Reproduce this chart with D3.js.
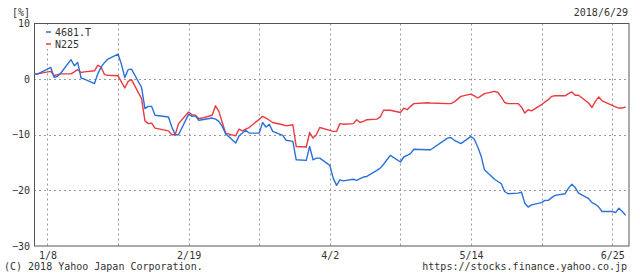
<!DOCTYPE html>
<html>
<head>
<meta charset="utf-8">
<script src="https://cdn.jsdelivr.net/npm/d3@7"></script>
<style>
  body { margin: 0; background: #fff; }
  svg text { font-family: "DejaVu Sans Mono", "Liberation Mono", monospace; fill: #333; }
</style>
</head>
<body>
<svg id="chart" width="640" height="279"></svg>
<script>
// trading days, Jan 4 - Jun 29 2018
let days = [
  "01-04","01-05","01-09","01-10","01-11","01-12","01-15","01-16","01-17","01-18","01-19",
  "01-22","01-23","01-24","01-25","01-26","01-29","01-30","01-31","02-01","02-02",
  "02-05","02-06","02-07","02-08","02-09","02-13","02-14","02-15","02-16",
  "02-19","02-20","02-21","02-22","02-23","02-26","02-27","02-28","03-01","03-02",
  "03-05","03-06","03-07","03-08","03-09","03-12","03-13","03-14","03-15","03-16",
  "03-19","03-20","03-22","03-23","03-26","03-27","03-28","03-29","03-30",
  "04-02","04-03","04-04","04-05","04-06","04-09","04-10","04-11","04-12","04-13",
  "04-16","04-17","04-18","04-19","04-20","04-23","04-24","04-25","04-26","04-27",
  "05-01","05-02","05-07","05-08","05-09","05-10","05-11","05-14","05-15","05-16","05-17","05-18",
  "05-21","05-22","05-23","05-24","05-25","05-28","05-29","05-30","05-31","06-01",
  "06-04","06-05","06-06","06-07","06-08","06-11","06-12","06-13","06-14","06-15",
  "06-18","06-19","06-20","06-21","06-22","06-25","06-26","06-27","06-28","06-29"
]

let stock = [  // 4681.T, %
  0.9, 0.9, 2.1, 0.3, 0.5, 1.1, 3.5, 2.4, 3.0, 0.2, 0,
  -0.8, 1.0, 2.2, 3.0, 3.6, 4.5, 2.7, 0.3, 1.7, 1.8,
  -1.5, -5.3, -4.9, -4.9, -6.5, -6.8, -8.6, -10, -10,
  -6.3, -6.7, -6.6, -7.4, -7.3, -7.0, -7.2, -7.6, -8.5, -9.8,
  -11.5, -10.2, -9.7, -9.2, -9.7, -9.7, -7.8, -8.6, -8.1, -9.4,
  -10.1, -11.0, -11.2, -14.5, -14.6, -12.1, -14.5, -14.2, -14.2,
  -15.5, -17.8, -19.1, -18.1, -18.3, -18.0, -18.2, -17.9, -17.6, -17.5,
  -16.4, -16.0, -15.3, -14.5, -13.7, -14.9, -14.0, -13.7, -13.4, -12.6,
  -12.7, -12.7, -10.6, -10.5, -11.0, -11.3, -11.6, -10.3, -10.8, -12.2, -13.8, -16.3,
  -18.0, -18.4, -18.8, -20.2, -20.6, -20.5, -20.3, -22.3, -23.0, -22.6,
  -22.2, -21.8, -21.8, -21.3, -20.9, -20.6, -19.6, -18.9, -19.5, -20.5,
  -21.5, -22.2, -22.5, -23.0, -23.8, -23.8, -24.0, -23.2, -23.8, -24.5
]

let nikkei = [  // N225, %
  0.95, 0.95, 1.4, 0.6, 0.8, 0.95, 0.95, 1.3, 1.7, 1.2, 1.3,
  1.5, 2.5, 2.1, 0.8, 0.7, 0.6, -0.5, -1.6, -0.4, -0.1,
  -3.5, -7.5, -8.0, -7.9, -8.8, -9.3, -10, -10, -8.0,
  -5.9, -6.4, -6.5, -7.1, -7.0, -6.5, -4.8, -5.8, -7.8, -9.7,
  -10.2, -9.0, -9.3, -9.0, -8.7, -7.2, -6.7, -7.0, -7.4, -7.8,
  -8.2, -8.4, -8.2, -12.1, -12.2, -9.6, -10.6, -10.0, -8.7,
  -9.2, -9.4, -9.4, -8.0, -8.1, -8.0, -7.3, -7.8, -7.6, -7.3,
  -7.2, -6.8, -5.6, -5.6, -5.6, -6.0, -5.2, -5.5, -4.9, -4.4,
  -4.25, -4.3, -4.4, -4.4, -4.1, -3.6, -3.1, -2.7, -3.0, -3.4, -3.0, -2.6,
  -2.2, -2.4, -3.2, -4.2, -4.4, -4.4, -5.0, -6.1, -5.5, -5.7,
  -4.6, -4.1, -3.7, -3.1, -3.0, -3.0, -2.6, -2.3, -2.9, -2.9,
  -4.3, -5.1, -4.0, -3.2, -3.9, -4.7, -5.0, -5.2, -5.2, -5.0
]

let yTicks = [10, 0, -10, -20, -30]
let gridDays = ["01-08","01-29","02-19","03-12","04-02","04-23","05-14","06-04","06-25"]
let labelDays = ["01-08","02-19","04-02","05-14","06-25"]
let seriesNames = ["4681.T", "N225"]
let seriesColors = ["#2a70dc", "#ea3a3f"]

let parse = d3.timeParse("%Y-%m-%d")
let toDate = s => parse("2018-" + s)

let x = d3.scaleTime().domain([toDate("01-04"), toDate("06-30")]).range([34, 629])
let y = d3.scaleLinear().domain([-30, 10]).range([246, 23.5])

let svg = d3.select("#chart")

// grid
svg.append("g")
    .selectAll("line")
    .data(yTicks.filter(d => d > -30 && d < 10))
    .join("line")
    .attr("x1", x.range()[0]).attr("x2", x.range()[1])
    .attr("y1", d => Math.round(y(d)) + 0.5).attr("y2", d => Math.round(y(d)) + 0.5)
    .attr("stroke", "#999").attr("stroke-dasharray", "2,3")

svg.append("g")
    .selectAll("line")
    .data(gridDays.map(toDate))
    .join("line")
    .attr("x1", d => Math.round(x(d)) + 0.5).attr("x2", d => Math.round(x(d)) + 0.5)
    .attr("y1", y(10)).attr("y2", y(-30))
    .attr("stroke", "#999").attr("stroke-dasharray", "2,3")

// frame
svg.append("rect")
    .attr("x", 34.5).attr("y", 23.5)
    .attr("width", 629 - 34.5).attr("height", 246 - 23.5)
    .attr("fill", "none").attr("stroke", "#555")

// axes
let axisY = d3.axisLeft(y).tickValues(yTicks).tickSize(0).tickPadding(4)
svg.append("g")
    .attr("transform", "translate(34,0)")
    .call(axisY)
    .call(g => g.select(".domain").remove())
    .selectAll("text").style("font-size", "10px").attr("fill", "#333")

let axisX = d3.axisBottom(x).tickValues(labelDays.map(toDate))
    .tickFormat(d3.timeFormat("%-m/%-d")).tickSize(0).tickPadding(4)
svg.append("g")
    .attr("transform", "translate(0,248)")
    .call(axisX)
    .call(g => g.select(".domain").remove())
    .selectAll("text").style("font-size", "10px").attr("fill", "#333")

// legend box sits over the grid
svg.append("rect")
    .attr("x", 43).attr("y", 25)
    .attr("width", 52).attr("height", 24)
    .attr("fill", "#fff")

// lines
let series = [stock, nikkei]
let line = d3.line()
    .x((d, i) => x(toDate(days[i])))
    .y(d => y(d))

;[1, 0].forEach(k => {
    svg.append("path")
        .attr("d", line(series[k]))
        .attr("fill", "none")
        .attr("stroke", seriesColors[k])
        .attr("stroke-width", 1.4)
        .attr("stroke-linejoin", "round")
})

// legend
let legend = svg.append("g")
    .selectAll("g")
    .data(seriesNames)
    .join("g")
    .attr("transform", (d, i) => `translate(46,${32 + i * 12})`)
legend.append("line")
    .attr("x1", 0).attr("x2", 5)
    .attr("stroke", (d, i) => seriesColors[i]).attr("stroke-width", 1.5)
legend.append("text")
    .attr("x", 9).attr("y", 4)
    .style("font-size", "10px")
    .text(d => d)

// labels
svg.append("text").attr("x", 12).attr("y", 16).style("font-size", "10px").text("[%]")
svg.append("text").attr("x", 628).attr("y", 16).attr("text-anchor", "end")
    .style("font-size", "10px").text("2018/6/29")
svg.append("text").attr("x", 4).attr("y", 270).style("font-size", "10px")
    .text("(C) 2018 Yahoo Japan Corporation.")
svg.append("text").attr("x", 627).attr("y", 270).attr("text-anchor", "end")
    .style("font-size", "10px").text("https://stocks.finance.yahoo.co.jp")
</script>
</body>
</html>
